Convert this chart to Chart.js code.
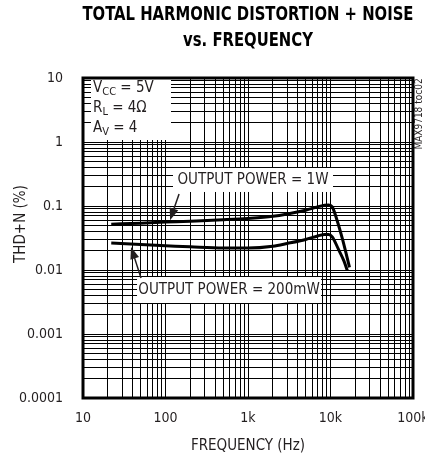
<!DOCTYPE html>
<html>
<head>
<meta charset="utf-8">
<script src="https://cdn.jsdelivr.net/npm/chart.js@4.4.1/dist/chart.umd.min.js"></script>
<style>
  html, body { margin: 0; padding: 0; background: #fff; }
</style>
</head>
<body>
<canvas id="thdChart" width="425" height="459"></canvas>
<script>
// ===============================
// DATA
// ===============================
const freq1W = [22, 50, 100, 200, 500, 1000, 2000, 3000, 5000, 7000, 8500, 9500, 10500, 12000, 14000, 17000];
const thd1W = [0.052, 0.054, 0.056, 0.058, 0.061, 0.064, 0.069, 0.075, 0.086, 0.097, 0.103, 0.104, 0.097, 0.06, 0.03, 0.011];

const freq200mW = [22, 50, 100, 200, 500, 1000, 2000, 3000, 5000, 7000, 8500, 9500, 10500, 12500, 14500, 16000];
const thd200mW = [0.0265, 0.025, 0.024, 0.023, 0.022, 0.022, 0.0235, 0.026, 0.03, 0.034, 0.036, 0.036, 0.033, 0.021, 0.014, 0.0098];

const xTickValues = [10, 100, 1000, 10000, 100000];
const xTickLabels = ["10", "100", "1k", "10k", "100k"];
const yTickValues = [0.0001, 0.001, 0.01, 0.1, 1, 10];
const yTickLabels = ["0.0001", "0.001", "0.01", "0.1", "1", "10"];

const FONT = '"DejaVu Sans Condensed", "Liberation Sans Narrow", Roboto, sans-serif';
const INK = "#231f20";

// 1..9 grid lines inside every decade
function decadeGrid(values){
  const out = [];
  for(let i = 0; i < values.length - 1; i++){
    for(let m = 1; m < 10; m++) out.push(+(values[i] * m).toPrecision(3));
  }
  out.push(values[values.length - 1]);
  return out;
}

function labelFor(values, labels){
  return (v) => {
    const i = values.findIndex(t => Math.abs(t - v) < t * 1e-6);
    return i >= 0 ? labels[i] : "";
  };
}

const toPoints = (xs, ys) => xs.map((x, i) => ({ x: x, y: ys[i] }));


// ===============================
// DRAW HELPERS
// ===============================
function textWithSub(ctx, parts, x, y){
  let cx = x;
  parts.forEach(([s, sub]) => {
    ctx.font = sub ? "11px " + FONT : "15px " + FONT;
    ctx.fillText(s, cx, sub ? y + 4 : y);
    cx += ctx.measureText(s).width;
  });
}

// squeeze text horizontally (the original uses a condensed face)
function narrowText(ctx, s, x, y, sx){
  ctx.save();
  ctx.translate(x, y);
  ctx.scale(sx, 1);
  ctx.fillText(s, 0, 0);
  ctx.restore();
}

function arrow(ctx, x1, y1, x2, y2){
  const a = Math.atan2(y2 - y1, x2 - x1);
  const len = 12, half = 4.5;
  ctx.beginPath();
  ctx.moveTo(x1, y1);
  ctx.lineTo(x2 - Math.cos(a) * len * 0.8, y2 - Math.sin(a) * len * 0.8);
  ctx.lineWidth = 1.5;
  ctx.stroke();
  ctx.beginPath();
  ctx.moveTo(x2, y2);
  ctx.lineTo(x2 - Math.cos(a) * len - Math.sin(a) * half, y2 - Math.sin(a) * len + Math.cos(a) * half);
  ctx.lineTo(x2 - Math.cos(a) * len + Math.sin(a) * half, y2 - Math.sin(a) * len - Math.cos(a) * half);
  ctx.closePath();
  ctx.fill();
}


// ===============================
// ANNOTATION PLUGIN
// ===============================
const annotations = {
  id: "annotations",

  beforeDatasetsDraw(chart){
    const { ctx, chartArea: a, scales: { x, y } } = chart;
    ctx.save();
    ctx.fillStyle = "#fff";
    // conditions box (top-left corner)
    ctx.fillRect(a.left + 8, a.top, 80, 62);
    // 1W label box
    const bx1 = x.getPixelForValue(1150), by1 = y.getPixelForValue(0.255);
    ctx.fillRect(bx1 - 80, by1 - 12, 160, 24);
    // 200mW label box
    const bx2 = x.getPixelForValue(589), by2 = y.getPixelForValue(0.00487);
    ctx.fillRect(bx2 - 92, by2 - 13, 184, 26);
    ctx.restore();
  },

  afterDatasetsDraw(chart){
    const { ctx, chartArea: a, scales: { x, y } } = chart;
    ctx.save();
    ctx.fillStyle = INK;
    ctx.strokeStyle = INK;
    ctx.textBaseline = "middle";
    ctx.textAlign = "left";

    // conditions
    textWithSub(ctx, [["V", 0], ["CC", 1], [" = 5V", 0]], a.left + 10, a.top + 10);
    textWithSub(ctx, [["R", 0], ["L", 1], [" = 4\u03A9", 0]], a.left + 10, a.top + 30);
    textWithSub(ctx, [["A", 0], ["V", 1], [" = 4", 0]], a.left + 10, a.top + 50);

    // curve labels
    ctx.font = "15px " + FONT;
    ctx.textAlign = "center";
    ctx.fillText("OUTPUT POWER = 1W", x.getPixelForValue(1150), y.getPixelForValue(0.255));
    ctx.fillText("OUTPUT POWER = 200mW", x.getPixelForValue(589), y.getPixelForValue(0.00487));

    // arrows
    arrow(ctx, x.getPixelForValue(146), y.getPixelForValue(0.154), x.getPixelForValue(113.6), y.getPixelForValue(0.06));
    arrow(ctx, x.getPixelForValue(50.5), y.getPixelForValue(0.0075), x.getPixelForValue(38.2), y.getPixelForValue(0.0229));

    // frame
    ctx.lineWidth = 3;
    ctx.strokeStyle = "#000";
    ctx.strokeRect(a.left, a.top, a.right - a.left, a.bottom - a.top);
    ctx.restore();

    // y axis title (sits a bit above the middle in the original)
    ctx.save();
    ctx.fillStyle = INK;
    ctx.textAlign = "center";
    ctx.textBaseline = "middle";
    ctx.font = "15px " + FONT;
    ctx.translate(21, a.top + 146);
    ctx.rotate(-Math.PI / 2);
    ctx.fillText("THD+N (%)", 0, 0);
    ctx.restore();

    // chart id on the right edge
    ctx.save();
    ctx.fillStyle = INK;
    ctx.textAlign = "center";
    ctx.textBaseline = "middle";
    ctx.translate(a.right + 6, a.top + 36);
    ctx.rotate(-Math.PI / 2);
    ctx.font = "10px " + FONT;
    ctx.fillText("MAX9718 toc02", 0, 0);
    ctx.restore();
  },

  afterDraw(chart){
    const { ctx, chartArea: a } = chart;
    ctx.save();
    ctx.fillStyle = "#000";
    ctx.textAlign = "center";
    ctx.textBaseline = "middle";
    ctx.font = "bold 20px " + FONT;
    const cx = (a.left + a.right) / 2;
    const sx = Math.min(1, 331 / ctx.measureText("TOTAL HARMONIC DISTORTION + NOISE").width);
    narrowText(ctx, "TOTAL HARMONIC DISTORTION + NOISE", cx, 15, sx);
    narrowText(ctx, "vs. FREQUENCY", cx, 41, sx);
    ctx.restore();
  }
};


// ===============================
// CHART
// ===============================
new Chart(document.getElementById("thdChart"), {

  type: "line",

  data: {
    datasets: [
      {
        label: "1W",
        data: toPoints(freq1W, thd1W),
        borderColor: "#000",
        borderWidth: 3,
        pointRadius: 0,
        cubicInterpolationMode: "monotone"
      },
      {
        label: "200mW",
        data: toPoints(freq200mW, thd200mW),
        borderColor: "#000",
        borderWidth: 3,
        pointRadius: 0,
        cubicInterpolationMode: "monotone"
      }
    ]
  },

  options: {
    responsive: false,
    animation: false,
    layout: { padding: { top: 78, right: 12, left: 0, bottom: 0 } },

    plugins: {
      legend: { display: false },
      tooltip: { enabled: false }
    },

    scales: {
      x: {
        type: "logarithmic",
        min: 10,
        max: 100000,
        afterBuildTicks: s => { s.ticks = decadeGrid(xTickValues).map(v => ({ value: v })); },
        afterFit: s => { s.height = 61; s.paddingLeft = 0; s.paddingRight = 0; },
        grid: { color: "#000", lineWidth: 1, drawTicks: false },
        border: { display: false },
        ticks: {
          autoSkip: false,
          maxRotation: 0,
          padding: 12,
          color: INK,
          font: { family: FONT, size: 14 },
          callback: labelFor(xTickValues, xTickLabels)
        },
        title: {
          display: true,
          text: "FREQUENCY (Hz)",
          color: INK,
          font: { family: FONT, size: 15 },
          padding: { bottom: 4 }
        }
      },

      y: {
        type: "logarithmic",
        min: 0.0001,
        max: 10,
        afterBuildTicks: s => { s.ticks = decadeGrid(yTickValues).map(v => ({ value: v })); },
        afterFit: s => { s.width = 83; s.paddingTop = 0; s.paddingBottom = 0; },
        grid: { color: "#000", lineWidth: 1, drawTicks: false },
        border: { display: false },
        ticks: {
          autoSkip: false,
          padding: 20,
          color: INK,
          font: { family: FONT, size: 14 },
          callback: labelFor(yTickValues, yTickLabels)
        },
        title: { display: false }
      }
    }
  },

  plugins: [annotations]

});
</script>
</body>
</html>
